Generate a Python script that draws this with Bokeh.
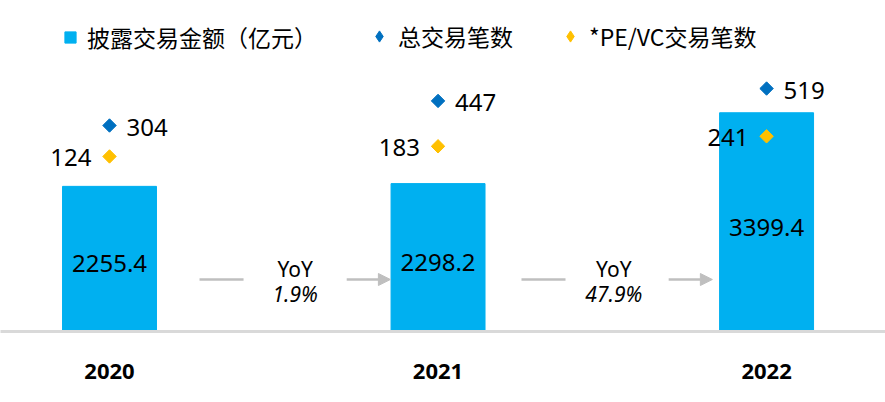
import math
from bokeh.plotting import figure
from bokeh.models import (Range1d, FixedTicker, Arrow, NormalHead, Legend, LegendItem,
                          ColumnDataSource)
from bokeh.embed import file_html
from bokeh.resources import INLINE
from bokeh.core.properties import value

# ---- data ----
years = ["2020", "2021", "2022"]
amount = [2255.4, 2298.2, 3399.4]          # 披露交易金额（亿元）
total_deals = [304, 447, 519]              # 总交易笔数
pevc_deals = [124, 183, 241]               # *PE/VC交易笔数
yoy_pct = ["1.9%", "47.9%"]

BAR = "#00B0F0"
BLUE = "#0070C0"
GOLD = "#FFC000"
GRAY = "#BFBFBF"
NUM_FONT = "Noto Sans"
CJK_FONT = "Noto Sans CJK SC"

x = list(range(len(years)))

p = figure(width=885, height=402, output_backend="svg", toolbar_location=None,
           x_range=Range1d(-0.3318, 2.362), y_range=Range1d(0, 5144),
           y_axis_location=None,
           min_border_left=0, min_border_right=0, min_border_top=0, min_border_bottom=71)
p.extra_y_ranges = {"cnt": Range1d(-894, 1031)}
p.outline_line_color = None
p.xgrid.visible = False
p.ygrid.visible = False

src = ColumnDataSource(dict(
    x=x, amount=amount, mid=[a / 2 for a in amount],
    amount_txt=[f"{a:.1f}" for a in amount],
    total=total_deals, total_txt=[str(v) for v in total_deals],
    pevc=pevc_deals, pevc_txt=[str(v) for v in pevc_deals],
))

r_bar = p.vbar(x="x", top="amount", width=0.286, source=src,
               fill_color=BAR, line_color=BAR)
p.text(x="x", y="mid", text="amount_txt", source=src, text_align="center",
       text_baseline="middle", y_offset=5, text_font=value(NUM_FONT),
       text_font_size="24px", text_color="#000000")

# legend proxies: plain diamonds hidden beneath the rotated-square markers
leg_tot = p.scatter(x="x", y="total", source=src, marker="diamond", size=8,
                    fill_color=BLUE, line_color=BLUE, y_range_name="cnt")
leg_pe = p.scatter(x="x", y="pevc", source=src, marker="diamond", size=8,
                   fill_color=GOLD, line_color=GOLD, y_range_name="cnt")

p.scatter(x="x", y="total", source=src, marker="square", angle=math.pi / 4,
          size=9.5, fill_color=BLUE, line_color=BLUE, y_range_name="cnt")
p.scatter(x="x", y="pevc", source=src, marker="square", angle=math.pi / 4,
          size=9.5, fill_color=GOLD, line_color=GOLD, y_range_name="cnt")
p.text(x="x", y="total", text="total_txt", source=src, x_offset=17, y_offset=2,
       text_align="left", text_baseline="middle", y_range_name="cnt",
       text_font=value(NUM_FONT), text_font_size="24px", text_color="#000000")
p.text(x="x", y="pevc", text="pevc_txt", source=src, x_offset=-18, y_offset=1,
       text_align="right", text_baseline="middle", y_range_name="cnt",
       text_font=value(NUM_FONT), text_font_size="24px", text_color="#000000")

# YoY connectors
for i, pct in enumerate(yoy_pct):
    p.segment(x0=[i + 0.274 - 0.02 * i], y0=[808], x1=[i + 0.408 - 0.02 * i], y1=[808],
              line_color=GRAY, line_width=2.5)
    p.add_layout(Arrow(x_start=i + 0.722 - 0.02 * i, y_start=808,
                       x_end=i + 0.855 - 0.02 * i, y_end=808,
                       line_color=GRAY, line_width=2.5,
                       end=NormalHead(size=12, fill_color=GRAY, line_color=GRAY)))
    p.text(x=[i + 0.565 - 0.03 * i], y=[979], text=["YoY"], text_align="center",
           text_baseline="middle", text_font=value(NUM_FONT), text_font_size="21px",
           text_color="#000000")
    p.text(x=[i + 0.565 - 0.03 * i], y=[590], text=[pct], text_align="center",
           text_baseline="middle", text_font=value(NUM_FONT), text_font_size="21px",
           text_font_style="italic", text_color="#000000")

# x axis
ax = p.xaxis[0]
ax.ticker = FixedTicker(ticks=x)
ax.major_label_overrides = {i: y for i, y in zip(x, years)}
ax.axis_line_color = "#D9D9D9"
ax.axis_line_width = 3
ax.major_tick_line_color = None
ax.minor_tick_line_color = None
ax.major_label_standoff = 26
ax.major_label_text_font = NUM_FONT
ax.major_label_text_font_size = "22px"
ax.major_label_text_font_style = "bold"
ax.major_label_text_color = "#000000"

# legends
def add_legend(label, renderer, x_px, y_px, gsize, standoff):
    lg = Legend(items=[LegendItem(label=label, renderers=[renderer])],
                location=(x_px, y_px), orientation="horizontal", padding=0, margin=0,
                border_line_color=None, background_fill_alpha=0,
                glyph_width=gsize, glyph_height=gsize, label_standoff=standoff,
                label_height=gsize,
                label_text_font=CJK_FONT, label_text_font_size="23px",
                label_text_color="#000000")
    p.add_layout(lg)

add_legend("披露交易金额（亿元）", r_bar, 63, 277, 14, 10)
add_legend("总交易笔数", leg_tot, 365, 278, 28, 5)
add_legend("*PE/VC交易笔数", leg_pe, 556, 278, 28, 5)

open("out.html", "w").write(file_html(p, INLINE))
